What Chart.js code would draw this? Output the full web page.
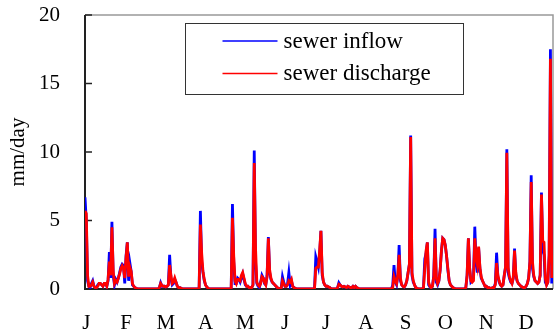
<!DOCTYPE html>
<html>
<head>
<meta charset="utf-8">
<script src="https://cdn.jsdelivr.net/npm/chart.js@4.4.0/dist/chart.umd.min.js"></script>
<style>
  html, body { margin: 0; padding: 0; background: #fff; }
  #wrap { width: 555px; height: 334px; }
</style>
</head>
<body>
<div id="wrap"><canvas id="sewer" width="555" height="334"></canvas></div>
<script>
// daily values in mm/day, index 0 = 1 January
var inflow = [
  6.7, 5.0, 0.6, 0.2, 0.1, 0.4, 0.6, 0.2, 0.1, 0.1,
  0.3, 0.4, 0.4, 0.3, 0.2, 0.4, 0.4, 0.2, 0.6, 2.7,
  0.8, 4.9, 1.0, 0.3, 0.7, 0.5, 0.8, 1.2, 1.6, 1.8,
  1.7, 0.4, 2.4, 3.4, 0.6, 1.9, 1.3, 0.3, 0.2, 0.1,
  0.05, 0, 0, 0, 0, 0, 0, 0, 0, 0,
  0, 0, 0, 0, 0, 0, 0, 0, 0.1, 0.45,
  0.2, 0.2, 0.2, 0.15, 0.2, 0.3, 2.5, 0.8, 0.3, 0.4,
  0.7, 0.5, 0.2, 0.1, 0.1, 0.05, 0, 0, 0, 0,
  0, 0, 0, 0, 0, 0, 0, 0, 0, 0.05,
  5.7, 2.0, 1.2, 0.6, 0.3, 0.15, 0.05, 0, 0, 0,
  0, 0, 0, 0, 0, 0, 0, 0, 0, 0,
  0, 0, 0, 0, 0, 6.2, 2.0, 0.4, 0.4, 0.8,
  0.7, 0.5, 0.8, 1.1, 0.7, 0.3, 0.2, 0.2, 0.1, 0.1,
  0.1, 0.3, 10.1, 2.0, 0.4, 0.2, 0.1, 0.5, 1.0, 0.8,
  0.4, 0.3, 1.0, 3.8, 1.2, 0.7, 0.5, 0.4, 0.3, 0.2,
  0.1, 0.05, 0, 0.05, 0.9, 0.5, 0.2, 0.2, 0.4, 1.2,
  0.3, 0.6, 0.2, 0.1, 0.05, 0, 0, 0, 0, 0,
  0, 0, 0, 0, 0, 0, 0, 0, 0, 0,
  2.35, 2.0, 1.6, 2.6, 4.25, 1.0, 0.5, 0.3, 0.2, 0.2,
  0.15, 0.1, 0, 0, 0, 0, 0, 0.1, 0.45, 0.3,
  0.2, 0.15, 0.2, 0.15, 0.1, 0.2, 0.15, 0.1, 0.1, 0.2,
  0.1, 0.2, 0.1, 0.05, 0, 0, 0, 0, 0, 0,
  0, 0, 0, 0, 0, 0, 0, 0, 0, 0,
  0, 0, 0, 0, 0, 0, 0, 0, 0, 0,
  0.3, 1.75, 0.5, 0.3, 1.0, 3.2, 0.6, 0.3, 0.2, 0.15,
  0.3, 0.6, 1.2, 1.8, 11.2, 1.0, 0.5, 0.3, 0.1, 0.05,
  0, 0, 0, 0, 0.1, 2.2, 2.6, 3.4, 0.3, 0.15,
  0.1, 0.2, 1.0, 4.4, 0.5, 0.3, 0.6, 1.4, 2.8, 3.7,
  3.6, 3.2, 2.4, 1.4, 0.6, 0.3, 0.2, 0.1, 0.05, 0,
  0, 0, 0, 0, 0, 0, 0, 0.1, 1.0, 3.7,
  1.5, 0.5, 0.6, 0.8, 4.55, 2.0, 1.2, 3.0, 1.5, 0.8,
  0.6, 0.4, 0.2, 0.2, 0.1, 0.1, 0.05, 0.05, 0.1, 0.1,
  0.4, 2.65, 0.9, 0.5, 0.3, 0.2, 0.3, 1.0, 1.6, 10.2,
  1.2, 0.8, 0.5, 0.4, 0.8, 2.95, 1.0, 0.6, 0.4, 0.3,
  0.2, 0.15, 0.1, 0.1, 0.2, 0.4, 0.8, 2.0, 8.3, 1.5,
  0.9, 0.6, 0.5, 0.4, 0.5, 1.0, 7.05, 2.8, 2.5, 0.5,
  0.3, 0.5, 2.5, 17.5, 0.4
];

var discharge = [
  5.7, 5.5, 1.0, 0.2, 0.2, 0.3, 0.5, 0.2, 0.1, 0.1,
  0.2, 0.4, 0.4, 0.3, 0.2, 0.4, 0.4, 0.2, 0.7, 2.0,
  1.0, 4.5, 1.3, 0.4, 0.6, 0.5, 0.8, 1.1, 1.5, 1.7,
  1.5, 0.8, 2.3, 3.4, 0.9, 1.6, 1.3, 0.4, 0.2, 0.1,
  0.05, 0, 0, 0, 0, 0, 0, 0, 0, 0,
  0, 0, 0, 0, 0, 0, 0, 0, 0.1, 0.4,
  0.25, 0.2, 0.2, 0.15, 0.2, 0.3, 1.75, 1.0, 0.4, 0.5,
  0.8, 0.5, 0.2, 0.1, 0.1, 0.05, 0, 0, 0, 0,
  0, 0, 0, 0, 0, 0, 0, 0, 0, 0.05,
  4.7, 2.6, 1.3, 0.7, 0.3, 0.15, 0.05, 0, 0, 0,
  0, 0, 0, 0, 0, 0, 0, 0, 0, 0,
  0, 0, 0, 0, 0, 5.2, 2.4, 0.6, 0.4, 0.7,
  0.7, 0.6, 1.0, 1.2, 0.8, 0.4, 0.2, 0.2, 0.1, 0.1,
  0.1, 0.3, 9.2, 3.0, 0.5, 0.3, 0.2, 0.4, 0.9, 0.8,
  0.5, 0.3, 0.9, 3.7, 1.4, 0.8, 0.5, 0.4, 0.3, 0.2,
  0.1, 0.05, 0, 0.05, 0.6, 0.4, 0.2, 0.2, 0.3, 0.6,
  0.5, 0.7, 0.2, 0.1, 0.05, 0, 0, 0, 0, 0,
  0, 0, 0, 0, 0, 0, 0, 0, 0, 0,
  1.5, 1.6, 1.6, 2.8, 4.25, 1.2, 0.5, 0.3, 0.2, 0.2,
  0.15, 0.1, 0, 0, 0, 0, 0, 0.1, 0.35, 0.3,
  0.2, 0.15, 0.2, 0.15, 0.1, 0.2, 0.15, 0.1, 0.1, 0.2,
  0.1, 0.2, 0.1, 0.05, 0, 0, 0, 0, 0, 0,
  0, 0, 0, 0, 0, 0, 0, 0, 0, 0,
  0, 0, 0, 0, 0, 0, 0, 0, 0, 0,
  0.1, 0.9, 0.6, 0.4, 1.0, 2.5, 0.8, 0.3, 0.2, 0.15,
  0.3, 0.6, 1.2, 1.8, 11.1, 1.2, 0.6, 0.3, 0.1, 0.05,
  0, 0, 0, 0, 0.1, 1.5, 2.8, 3.4, 0.5, 0.2,
  0.1, 0.2, 0.9, 3.7, 0.8, 0.4, 0.6, 1.4, 2.8, 3.7,
  3.6, 3.2, 2.4, 1.5, 0.6, 0.3, 0.2, 0.1, 0.05, 0,
  0, 0, 0, 0, 0, 0, 0, 0.1, 1.0, 3.7,
  1.5, 0.6, 0.5, 0.6, 3.7, 2.4, 1.8, 3.1, 1.6, 0.9,
  0.6, 0.4, 0.2, 0.2, 0.1, 0.1, 0.05, 0.05, 0.1, 0.1,
  0.3, 1.9, 1.0, 0.6, 0.3, 0.2, 0.3, 1.0, 1.6, 9.95,
  1.6, 0.9, 0.6, 0.4, 0.8, 2.8, 1.2, 0.6, 0.4, 0.3,
  0.2, 0.15, 0.1, 0.1, 0.2, 0.4, 0.8, 2.0, 7.8, 2.0,
  1.0, 0.6, 0.5, 0.4, 0.5, 1.0, 6.9, 3.5, 3.4, 0.8,
  0.3, 0.5, 2.5, 16.8, 0.8
];

// where the month letters sit on the day axis
var monthTicks = [1, 32, 63, 94, 125, 156, 188, 219, 250, 281, 313, 344];
var monthLabels = ['J', 'F', 'M', 'A', 'M', 'J', 'J', 'A', 'S', 'O', 'N', 'D'];
var yTicks = [0, 5, 10, 15, 20];

var serif = "'Liberation Serif', 'Times New Roman', serif";
Chart.defaults.font.family = serif;
Chart.defaults.font.size = 21;
Chart.defaults.color = '#000';

function toPoints(arr) {
  return arr.map(function (v, i) { return { x: i, y: v }; });
}

// plot frame + inward tick marks on the y axis
var frame = {
  id: 'frame',
  beforeDatasetsDraw: function (chart) {
    var a = chart.chartArea, c = chart.ctx, ys = chart.scales.y;
    c.save();
    c.strokeStyle = '#999';
    c.lineWidth = 1.5;
    c.beginPath();
    c.moveTo(a.left, a.top);
    c.lineTo(a.right, a.top);
    c.lineTo(a.right, a.bottom);
    c.stroke();
    c.strokeStyle = '#222';
    c.lineWidth = 2;
    c.beginPath();
    c.moveTo(a.left, a.top);
    c.lineTo(a.left, a.bottom);
    c.lineTo(a.right, a.bottom);
    c.stroke();
    c.lineWidth = 1.5;
    yTicks.forEach(function (t) {
      var py = ys.getPixelForValue(t);
      c.beginPath();
      c.moveTo(a.left, py);
      c.lineTo(a.left + 7, py);
      c.stroke();
    });
    c.restore();
  }
};

// boxed legend inside the plot
var boxLegend = {
  id: 'boxLegend',
  afterDraw: function (chart) {
    var c = chart.ctx, a = chart.chartArea;
    var left = a.left + 100.5, top = a.top + 8.5, w = 278, h = 71;
    c.save();
    c.fillStyle = '#fff';
    c.fillRect(left, top, w, h);
    c.strokeStyle = '#333';
    c.lineWidth = 1;
    c.strokeRect(left, top, w, h);
    c.font = '23px ' + serif;
    c.textBaseline = 'alphabetic';
    chart.data.datasets.forEach(function (ds, i) {
      var ly = top + 17.5 + i * 32.5;
      c.strokeStyle = ds.borderColor;
      c.lineWidth = 1.5;
      c.beginPath();
      c.moveTo(left + 37, ly);
      c.lineTo(left + 92, ly);
      c.stroke();
      c.fillStyle = '#000';
      c.fillText(ds.label, left + 98, ly + 6.5);
    });
    c.restore();
  }
};

var ctx = document.getElementById('sewer').getContext('2d');
var chart = new Chart(ctx, {
  type: 'line',
  data: {
    datasets: [{
      label: 'sewer inflow',
      data: toPoints(inflow),
      borderColor: 'rgb(0, 0, 255)',
      borderWidth: 2.8,
      pointRadius: 0,
      tension: 0,
      order: 2
    }, {
      label: 'sewer discharge',
      data: toPoints(discharge),
      borderColor: 'rgb(255, 0, 0)',
      borderWidth: 2.8,
      pointRadius: 0,
      tension: 0,
      order: 1
    }]
  },
  options: {
    responsive: false,
    animation: false,
    layout: { padding: { top: 15, right: 2, left: 0, bottom: 0 } },
    plugins: {
      legend: { display: false },
      tooltip: { enabled: false }
    },
    scales: {
      x: {
        type: 'linear',
        min: 0,
        max: 365,
        grid: { display: false },
        border: { display: false },
        afterBuildTicks: function (scale) {
          scale.ticks = monthTicks.map(function (v) { return { value: v }; });
        },
        afterFit: function (scale) {
          scale.height = 45;
          scale.paddingLeft = 0;
          scale.paddingRight = 0;
        },
        ticks: {
          autoSkip: false,
          maxRotation: 0,
          padding: 14,
          callback: function (value) { return monthLabels[monthTicks.indexOf(value)]; }
        }
      },
      y: {
        min: 0,
        max: 20,
        grid: { display: false },
        border: { display: false },
        afterFit: function (scale) {
          scale.width = 85;
          scale.paddingTop = 0;
          scale.paddingBottom = 0;
        },
        ticks: { stepSize: 5, padding: 17 },
        title: {
          display: true,
          text: 'mm/day',
          padding: { top: 6, bottom: 0 }
        }
      }
    }
  },
  plugins: [frame, boxLegend]
});
</script>
</body>
</html>
